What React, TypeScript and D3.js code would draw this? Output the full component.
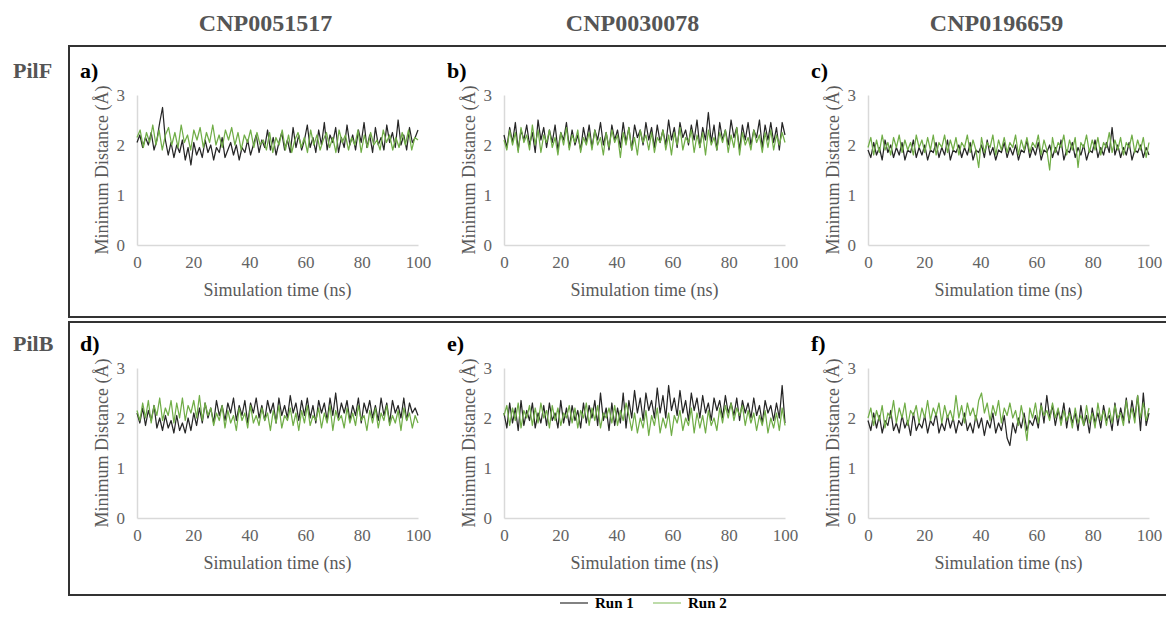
import React, { useEffect, useRef } from 'react';
import * as d3 from 'd3';

const compounds = ['CNP0051517', 'CNP0030078', 'CNP0196659'];
const proteins = ['PilF', 'PilB'];
const panelLetters = ['a)', 'b)', 'c)', 'd)', 'e)', 'f)'];
const xTicks = [0, 20, 40, 60, 80, 100];
const yTicks = [0, 1, 2, 3];
const runNames = ['Run 1', 'Run 2'];
const runColors = ['#262626', '#70ad47'];

// minimum distance (Å), evenly spread over 0-100 ns
const aRun1 = [2.05,2.2,1.95,2.15,2.0,2.25,1.9,2.1,2.45,2.75,2.1,1.8,2.05,1.75,2.0,1.85,2.1,1.7,1.95,1.6,2.05,1.8,1.95,1.75,2.1,1.85,2.0,1.7,1.95,1.85,2.15,1.75,1.9,2.05,1.8,2.0,1.7,1.95,1.85,2.1,1.8,2.0,2.2,1.85,2.1,1.95,2.3,1.9,2.15,1.8,2.05,2.25,1.9,2.1,1.85,2.35,1.95,2.2,1.9,2.1,2.4,1.95,2.15,1.85,2.3,2.0,2.45,1.9,2.2,2.05,2.35,1.85,2.15,1.95,2.4,2.0,2.2,1.9,2.3,2.05,2.45,1.95,2.2,1.85,2.35,2.0,2.15,1.9,2.4,2.05,2.25,1.95,2.5,2.0,2.2,1.9,2.35,2.05,2.15,2.3];
const aRun2 = [2.15,2.3,1.95,2.25,2.05,2.4,2.0,2.3,1.9,2.2,2.35,2.0,2.25,1.95,2.4,2.05,2.2,1.9,2.3,2.1,2.35,1.95,2.25,2.05,2.4,2.0,2.2,1.95,2.3,2.1,2.35,2.0,2.25,1.9,2.2,2.05,2.3,1.95,2.25,2.0,2.1,1.9,2.25,1.85,2.15,2.0,2.3,1.9,2.2,1.85,2.1,2.25,1.95,2.15,1.85,2.3,2.0,2.2,1.9,2.1,2.25,1.95,2.15,1.85,2.3,2.05,2.2,1.9,2.15,2.0,2.3,1.85,2.2,1.95,2.25,2.0,2.1,1.9,2.3,2.05,2.2,1.9,2.15,1.95,2.25,2.0,2.3,1.9,2.15,2.1];
const bRun1 = [2.2,1.95,2.35,2.05,2.45,1.9,2.3,2.1,2.4,2.0,2.25,1.85,2.5,2.1,2.35,1.95,2.3,2.05,2.4,1.9,2.25,2.1,2.45,1.95,2.3,2.0,2.2,1.9,2.35,2.05,2.4,1.95,2.3,2.1,2.45,2.0,2.25,1.9,2.4,2.1,2.3,1.95,2.45,2.05,2.35,1.9,2.4,2.15,2.3,2.0,2.45,2.1,2.35,1.95,2.4,2.05,2.3,2.0,2.5,2.1,2.35,1.95,2.45,2.15,2.3,2.0,2.4,2.1,2.5,1.95,2.35,2.1,2.65,2.05,2.4,1.9,2.45,2.1,2.3,2.0,2.5,2.15,2.35,1.9,2.4,2.1,2.45,2.0,2.3,2.15,2.5,1.95,2.4,2.1,2.45,2.05,2.35,1.9,2.45,2.2];
const bRun2 = [2.1,1.9,2.3,2.0,2.25,1.85,2.35,2.05,2.2,1.9,2.4,2.0,2.3,1.85,2.2,2.05,2.3,1.95,2.15,1.8,2.25,2.0,2.35,1.9,2.2,2.05,2.3,1.85,2.15,2.0,2.25,1.9,2.3,2.0,2.15,1.8,2.25,1.95,2.3,2.05,2.2,1.75,2.25,2.0,2.35,1.9,2.15,1.8,2.3,2.05,2.2,1.9,2.25,1.85,2.15,2.05,2.3,1.9,2.2,1.8,2.25,2.0,2.35,1.9,2.15,2.05,2.3,1.85,2.2,1.95,2.25,1.8,2.3,2.0,2.15,1.9,2.25,2.05,2.3,1.85,2.2,1.95,2.35,1.8,2.25,2.0,2.15,1.9,2.3,2.05,2.2,1.85,2.25,1.95,2.3,1.9,2.2,2.0,2.25,2.05];
const cRun1 = [1.9,1.75,2.05,1.8,1.95,1.7,2.1,1.85,2.0,1.75,1.95,1.8,2.05,1.7,1.9,1.85,2.1,1.75,1.95,1.8,2.0,1.7,1.9,1.85,2.05,1.75,1.95,1.8,2.1,1.7,1.9,1.85,2.0,1.75,1.95,1.8,2.05,1.7,1.9,1.85,2.0,1.75,2.1,1.8,1.95,1.7,1.9,1.85,2.05,1.75,1.95,1.8,2.0,1.7,1.9,1.85,2.1,1.75,1.95,1.8,2.05,1.7,1.9,1.85,2.0,1.75,1.95,1.8,2.1,1.7,1.9,1.85,2.05,1.75,1.95,1.8,2.0,1.7,1.9,1.85,2.1,1.75,1.95,1.8,2.05,1.85,2.35,1.8,2.0,1.75,1.95,1.8,2.05,1.7,1.9,1.85,2.0,1.75,1.95,1.8];
const cRun2 = [1.95,2.15,1.8,2.1,1.85,2.2,1.9,2.05,1.8,2.15,1.95,2.2,1.85,2.1,1.9,2.05,1.8,2.2,1.95,2.1,1.85,2.15,1.9,2.2,1.8,2.05,1.95,2.2,1.85,2.1,1.9,2.15,1.8,2.05,1.95,2.2,1.85,2.1,1.9,1.55,2.15,1.85,2.05,1.95,2.2,1.8,2.1,1.9,2.15,1.85,2.05,1.95,2.2,1.8,2.1,1.9,2.15,1.85,2.05,1.95,2.2,1.8,2.1,1.9,1.5,2.15,1.85,2.05,1.95,2.2,1.8,2.1,1.9,2.15,1.55,2.05,1.95,2.2,1.85,2.1,1.9,2.15,1.8,2.05,1.95,2.25,1.85,2.1,1.9,2.15,1.8,2.05,1.95,2.2,1.85,2.1,1.9,2.15,1.75,2.05];
const dRun1 = [2.1,1.9,2.2,1.85,2.15,1.95,2.25,1.8,2.0,1.75,2.05,1.8,1.95,1.7,2.05,1.75,1.9,1.7,2.0,1.75,2.1,1.85,2.2,1.9,2.3,2.0,2.2,1.9,2.35,2.05,2.25,1.95,2.3,2.1,2.4,1.95,2.25,2.05,2.35,1.9,2.3,2.1,2.4,2.0,2.25,1.95,2.35,2.1,2.3,1.9,2.4,2.05,2.25,2.0,2.45,2.1,2.3,1.95,2.35,2.05,2.4,2.0,2.25,1.9,2.35,2.1,2.3,1.95,2.4,2.05,2.5,2.0,2.3,2.1,2.35,1.95,2.25,2.05,2.4,1.9,2.3,2.1,2.35,2.0,2.25,1.95,2.4,2.05,2.3,1.9,2.35,2.1,2.25,2.0,2.4,1.95,2.3,2.1,2.2,2.05];
const dRun2 = [2.15,1.95,2.3,2.0,2.35,1.9,2.25,2.05,2.4,1.95,2.2,2.05,2.35,1.9,2.3,2.0,2.4,1.95,2.25,2.1,2.35,2.0,2.45,1.95,2.3,2.05,2.2,1.85,2.1,1.95,2.25,1.8,2.15,1.9,2.05,1.75,2.2,1.95,2.1,1.8,2.25,1.9,2.05,1.85,2.2,1.95,2.1,1.75,2.15,1.9,2.25,1.8,2.05,1.95,2.2,1.85,2.1,1.75,2.15,1.9,2.25,1.85,2.05,1.95,2.2,1.8,2.1,1.9,2.25,1.75,2.15,1.95,2.05,1.8,2.2,1.9,2.1,1.85,2.25,1.95,2.05,1.75,2.15,1.9,2.2,1.8,2.1,1.95,2.25,1.85,2.05,1.9,2.15,1.75,2.2,1.95,2.1,1.8,2.05,1.9];
const eRun1 = [2.1,1.8,2.3,1.9,2.2,1.75,2.35,1.85,2.15,1.95,2.3,1.8,2.1,1.9,2.25,1.85,2.3,1.95,2.1,1.8,2.35,1.9,2.2,1.85,2.25,1.95,2.15,1.8,2.3,1.9,2.25,2.0,2.35,1.85,2.5,1.95,2.2,1.75,2.3,1.85,2.2,1.9,2.5,1.8,2.35,2.0,2.55,2.1,2.4,1.95,2.5,2.15,2.35,2.0,2.6,2.1,2.45,2.0,2.65,2.15,2.4,2.05,2.55,2.1,2.35,1.95,2.5,2.15,2.4,2.0,2.45,2.1,2.3,1.95,2.4,2.15,2.35,2.0,2.45,2.1,2.3,2.05,2.4,1.95,2.35,2.1,2.3,2.0,2.4,2.05,2.25,1.9,2.35,2.1,2.25,1.95,2.3,2.0,2.65,1.9];
const eRun2 = [2.05,2.25,1.85,2.2,1.95,2.3,1.8,2.15,2.0,2.25,1.85,2.2,1.9,2.3,2.0,2.15,1.8,2.25,1.95,2.2,1.85,2.1,2.0,2.25,1.9,2.2,1.8,2.15,2.0,2.3,1.85,2.2,1.95,2.25,1.8,2.1,2.0,2.2,1.9,2.25,1.85,2.15,1.95,2.3,2.05,1.75,2.1,1.7,2.0,1.8,2.15,1.65,2.05,1.85,2.2,1.7,2.0,1.8,2.1,1.65,2.05,1.9,2.15,1.75,2.0,1.85,2.2,1.7,2.1,1.8,2.05,1.7,2.15,1.85,2.0,1.75,2.2,1.9,2.25,2.0,2.3,1.95,2.2,2.05,2.25,1.85,2.15,1.9,2.1,1.75,2.05,1.85,2.15,1.7,2.0,1.8,2.1,1.75,2.2,1.85];
const fRun1 = [1.95,1.75,2.1,1.8,2.05,1.7,1.95,1.85,2.15,1.75,1.9,1.7,2.05,1.8,1.95,1.65,2.1,1.75,1.9,1.8,2.05,1.7,1.95,1.85,2.1,1.7,1.9,1.75,2.05,1.8,2.0,1.7,1.95,1.85,2.1,1.75,1.9,1.7,2.05,1.8,2.0,1.65,1.95,1.8,2.1,1.7,1.9,1.75,2.05,1.6,1.45,1.9,1.7,2.0,1.8,2.1,1.75,1.95,1.85,2.05,1.8,2.3,1.9,2.45,2.0,2.25,1.85,2.15,1.95,2.3,1.8,2.2,1.9,2.1,1.75,2.25,1.85,2.05,1.7,2.2,1.9,2.1,1.8,2.25,1.95,2.05,1.75,2.3,1.85,2.2,1.95,2.4,1.9,2.35,2.0,2.45,1.75,2.5,1.85,2.1];
const fRun2 = [2.0,2.2,1.85,2.15,1.95,2.25,1.8,2.1,2.0,2.35,1.9,2.2,2.0,2.3,1.85,2.15,2.05,2.25,1.9,2.2,2.0,2.35,1.95,2.2,2.05,2.3,1.9,2.25,2.0,2.15,1.95,2.45,2.0,2.25,1.9,2.3,2.05,2.2,1.95,2.35,2.5,2.1,2.3,1.95,2.25,2.05,2.35,1.9,2.2,2.05,2.3,2.0,2.15,1.85,2.25,1.95,1.55,2.2,2.0,2.3,1.9,2.25,2.05,2.15,1.95,2.3,2.0,2.2,1.85,2.15,1.95,2.1,1.8,2.2,1.9,2.05,1.85,2.25,1.9,2.1,1.8,2.3,1.95,2.15,1.85,2.2,1.9,2.25,2.0,2.1,1.85,2.35,1.95,2.2,1.9,2.45,2.0,2.3,1.95,2.2];

const panelRuns = [
  [aRun1, aRun2],
  [bRun1, bRun2],
  [cRun1, cRun2],
  [dRun1, dRun2],
  [eRun1, eRun2],
  [fRun1, fRun2],
];

const W = 1166;
const H = 619;
const serif = "'Liberation Serif', 'Times New Roman', serif";
const colLeft = [137, 504, 868];
const plotW = 281;
const rowBase = [245, 518];
const plotH = 150;
const boxTop = [46, 322];
const boxBottom = [317, 595];

export default function App() {
  const ref = useRef<SVGSVGElement>(null);

  useEffect(() => {
    const svg = d3.select(ref.current);
    svg.selectAll('*').remove();

    svg.append('rect').attr('width', W).attr('height', H).attr('fill', '#fff');

    // column headers
    svg
      .selectAll('.colTitle')
      .data(compounds)
      .enter()
      .append('text')
      .attr('class', 'colTitle')
      .attr('x', (d, i) => colLeft[i] + plotW / 2 - 12)
      .attr('y', 23)
      .attr('dy', '0.35em')
      .attr('text-anchor', 'middle')
      .style('font-family', serif)
      .style('font-weight', 700)
      .style('font-size', '24px')
      .style('fill', '#555')
      .text((d) => d);

    // row boxes + labels
    proteins.forEach((p, r) => {
      svg
        .append('rect')
        .attr('x', 69)
        .attr('y', boxTop[r])
        .attr('width', W)
        .attr('height', boxBottom[r] - boxTop[r])
        .attr('fill', 'none')
        .attr('stroke', '#333')
        .attr('stroke-width', 2);
      svg
        .append('text')
        .attr('x', 13)
        .attr('y', rowBase[r] - 175)
        .attr('dy', '0.35em')
        .style('font-family', serif)
        .style('font-weight', 700)
        .style('font-size', '22px')
        .style('fill', '#555')
        .text(p);
    });

    panelRuns.forEach((runs, k) => {
      const r = Math.floor(k / 3);
      const c = k % 3;
      const left = colLeft[c];
      const base = rowBase[r];
      const x = d3.scaleLinear().domain([0, 100]).range([left, left + plotW]);
      const y = d3.scaleLinear().domain([0, 3]).range([base, base - plotH]);
      const g = svg.append('g');

      const yAxis = g
        .append('g')
        .attr('transform', `translate(${left},0)`)
        .call(d3.axisLeft(y).tickValues(yTicks).tickSize(0).tickPadding(12).tickFormat(d3.format('d')));
      const xAxis = g
        .append('g')
        .attr('transform', `translate(0,${base})`)
        .call(d3.axisBottom(x).tickValues(xTicks).tickSize(0).tickPadding(11).tickFormat(d3.format('d')));
      [yAxis, xAxis].forEach((a) => {
        a.select('.domain').attr('stroke', '#d9d9d9').attr('stroke-width', 1.5);
        a.selectAll('text').style('font-family', serif).style('font-size', '17px').style('fill', '#636363');
      });

      g.append('text')
        .attr('transform', `translate(${left - 35},${base - plotH / 2}) rotate(-90)`)
        .attr('text-anchor', 'middle')
        .attr('dy', '0.35em')
        .style('font-family', serif)
        .style('font-size', '18px')
        .style('fill', '#595959')
        .text('Minimum Distance (Å)');

      g.append('text')
        .attr('x', left + plotW / 2)
        .attr('y', base + 45)
        .attr('dy', '0.35em')
        .attr('text-anchor', 'middle')
        .style('font-family', serif)
        .style('font-size', '18px')
        .style('fill', '#595959')
        .text('Simulation time (ns)');

      g.append('text')
        .attr('x', left - 57)
        .attr('y', base - 175)
        .attr('dy', '0.35em')
        .style('font-family', serif)
        .style('font-weight', 700)
        .style('font-size', '22px')
        .style('fill', '#000')
        .text(panelLetters[k]);

      const line = d3
        .line<number>()
        .x((d, i, arr) => x((i * 100) / (arr.length - 1)))
        .y((d) => y(d));

      runs.forEach((vals, j) => {
        g.append('path')
          .attr('d', line(vals))
          .attr('fill', 'none')
          .attr('stroke', runColors[j])
          .attr('stroke-width', 1.25)
          .attr('stroke-linejoin', 'round');
      });
    });

    // legend
    const leg = svg
      .selectAll('.legend')
      .data(runNames)
      .enter()
      .append('g')
      .attr('class', 'legend')
      .attr('transform', (d, i) => `translate(${560 + i * 93},603)`);
    leg
      .append('line')
      .attr('x1', 0)
      .attr('x2', 28)
      .attr('stroke', (d, i) => (i === 0 ? '#595959' : '#a9d18e'))
      .attr('stroke-width', 1.5);
    leg
      .append('text')
      .attr('x', 35)
      .attr('dy', '0.35em')
      .style('font-family', serif)
      .style('font-weight', 700)
      .style('font-size', '15px')
      .style('fill', '#000')
      .text((d) => d);
  }, []);

  return (
    <svg
      ref={ref}
      width={W}
      height={H}
      style={{ position: 'absolute', left: 0, top: 0, display: 'block' }}
    />
  );
}
